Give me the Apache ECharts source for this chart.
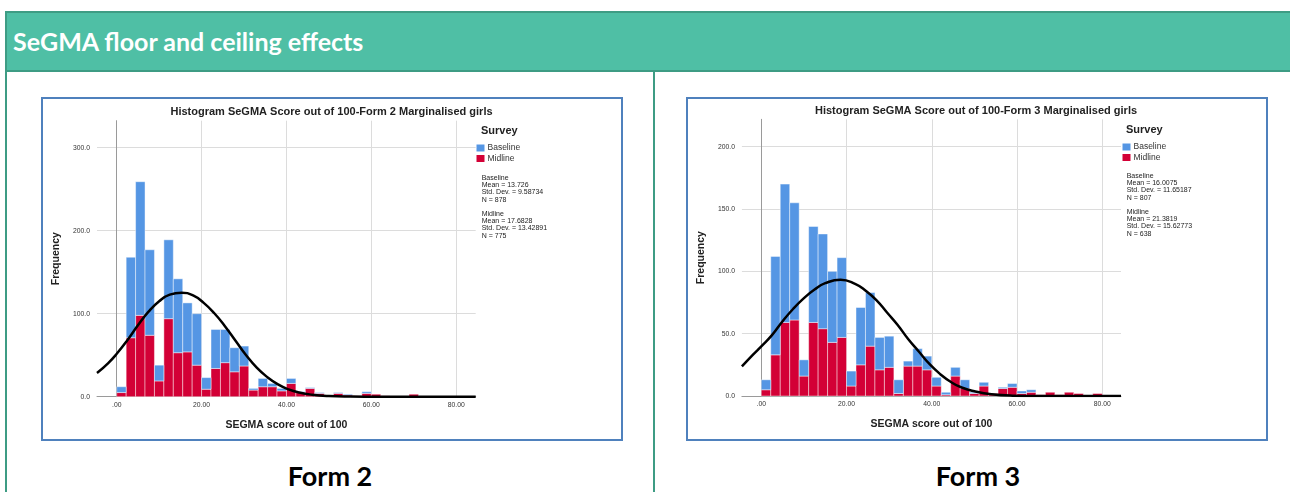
<!DOCTYPE html>
<html><head><meta charset="utf-8">
<script src="https://cdn.jsdelivr.net/npm/echarts@6/dist/echarts.min.js"></script>
<style>
html,body{margin:0;padding:0;background:#fff;width:1290px;height:492px;overflow:hidden;position:relative;}
#hdr{position:absolute;left:5px;top:11px;width:1290px;height:57px;background:#4FBFA5;border:2px solid #3E9C84;color:#fff;font-family:Lato,'Open Sans',sans-serif;font-weight:bold;font-size:25px;line-height:57px;padding-left:6px;white-space:nowrap;}
.vline{position:absolute;top:72px;height:420px;width:2px;background:#3E9C84;}
.box{position:absolute;top:97px;width:578px;height:340px;border:2px solid #4F81BD;}
.cap{position:absolute;top:462px;width:300px;text-align:center;font-family:Lato,'Open Sans',sans-serif;font-weight:bold;font-size:27px;line-height:27px;color:#000;}
</style></head>
<body>
<div id="hdr">SeGMA floor and ceiling effects</div>
<div class="vline" style="left:5px"></div>
<div class="vline" style="left:653px"></div>
<div class="box" style="left:41px"><div id="c2" style="width:578px;height:340px"></div></div>
<div class="box" style="left:686px"><div id="c3" style="width:578px;height:340px"></div></div>
<div class="cap" style="left:180px">Form 2</div>
<div class="cap" style="left:828px">Form 3</div>
<script>
// ---- data ----
const BIN_WIDTH = 100 / 45;            // histogram bin width (score units)
const xTicks = [0, 20, 40, 60, 80];
const form2YTicks = [0, 100, 200, 300];
const form3YTicks = [0, 50, 100, 150, 200];
const seriesNames = ['Baseline', 'Midline'];

// counts per bin (bin k covers [k*BIN_WIDTH, (k+1)*BIN_WIDTH))
const form2Baseline = [7,97,161,103,19,95,89,59,62,14,47,40,29,24,2,10,4,3,6,1,1,1,0,1,1,0,2,0,0,0,0,0];
const form2Midline  = [5,71,98,74,19,94,53,54,38,9,34,41,30,37,8,12,12,7,16,5,10,4,2,4,2,1,4,3,1,0,0,3];
const form3Baseline = [8,79,111,94,13,77,76,57,64,12,46,43,26,25,11,4,14,11,7,2,7,7,1,3,0,1,3,2,2,0,0,0,0,0,0,0];
const form3Midline  = [5,33,59,61,16,59,54,43,47,8,25,40,21,23,2,24,24,21,8,1,16,6,2,8,2,6,7,2,3,1,3,1,3,2,0,2];

// fitted normal curve [score, frequency]
const form2Curve = [[-4.65,28.5],[-2,40.5],[0,51.7],[2.5,68],[5,86],[7.5,102.4],[10,115],[12.5,123],[15.3,125.3],[18,122],[20.5,113],[23,100.5],[25.5,85],[28,67.5],[30.5,50],[33,35],[35.5,23.5],[38,14.8],[40.5,8.8],[43,5],[46,2.4],[50,0.8],[55,0.2],[62,0],[84.6,0]];
const form3Curve = [[-4.55,23.7],[-2,33],[0,39.8],[2.5,48.8],[5,60],[7.5,70],[10,78.5],[12.5,85.5],[15,90.5],[18.6,93.3],[22,90],[24.5,84.5],[27,77],[29.5,67],[32,57],[34.5,45.5],[37,35.5],[39.5,25.5],[42,17.5],[44.5,11.2],[47,6.8],[50,3.8],[54,1.4],[59,0.3],[65,0.05],[84.4,0]];

const form2Title = 'Histogram SeGMA Score out of 100-Form 2 Marginalised girls';
const form3Title = 'Histogram SeGMA Score out of 100-Form 3 Marginalised girls';
const form2BaselineStats = ['Baseline', 'Mean = 13.726', 'Std. Dev. = 9.58734', 'N = 878'];
const form2MidlineStats  = ['Midline', 'Mean = 17.6828', 'Std. Dev. = 13.42891', 'N = 775'];
const form3BaselineStats = ['Baseline', 'Mean = 16.0075', 'Std. Dev. = 11.65187', 'N = 807'];
const form3MidlineStats  = ['Midline', 'Mean = 21.3819', 'Std. Dev. = 15.62773', 'N = 638'];

// ---- drawing ----
const FONT = "'Liberation Sans', Arial, sans-serif";
const BLUE = '#5596E4', RED = '#D30036';

function renderBin(params, api) {
  const lo = api.value(1), hi = api.value(2);
  if (!(hi > lo)) return { type: 'group', children: [] };
  const a = api.coord([api.value(0), hi]);
  const b = api.coord([api.value(3), lo]);
  return {
    type: 'rect',
    shape: { x: a[0], y: a[1], width: b[0] - a[0], height: b[1] - a[1] },
    style: { fill: api.visual('color'), stroke: 'rgba(255,255,255,0.55)', lineWidth: 0.8 }
  };
}

function makeChart(id, c) {
  const chart = echarts.init(document.getElementById(id));
  const midData = c.mid.map((v, k) => [k * BIN_WIDTH, 0, v, (k + 1) * BIN_WIDTH]);
  const baseData = c.base.map((v, k) => [k * BIN_WIDTH, c.mid[k], c.mid[k] + v, (k + 1) * BIN_WIDTH]);
  chart.setOption({
    animation: false,
    grid: { left: c.grid[0], top: c.grid[1], width: c.grid[2], height: c.grid[3] },
    xAxis: {
      type: 'value', min: c.xMin, max: c.xMax,
      name: 'SEGMA score out of 100', nameLocation: 'middle', nameGap: 23,
      nameTextStyle: { fontFamily: FONT, fontWeight: 'bold', fontSize: 10.5, color: '#222' },
      axisLine: { show: true, lineStyle: { color: '#9a9a9a', width: 1 } },
      axisTick: { show: false, customValues: xTicks },
      axisLabel: { customValues: xTicks, margin: 5, fontFamily: FONT, fontSize: 6.8, color: '#333',
        formatter: v => v === 0 ? '.00' : v.toFixed(2) },
      splitLine: { show: true, lineStyle: { color: '#dcdcdc', width: 1 } }
    },
    yAxis: {
      type: 'value', min: 0, max: c.yMax,
      name: 'Frequency', nameLocation: 'middle', nameGap: 31,
      nameTextStyle: { fontFamily: FONT, fontWeight: 'bold', fontSize: 10.5, color: '#222' },
      axisLine: { show: true, lineStyle: { color: '#9a9a9a', width: 1 } },
      axisTick: { show: false, customValues: c.yTicks },
      axisLabel: { customValues: c.yTicks, margin: 7, fontFamily: FONT, fontSize: 6.8, color: '#333',
        formatter: v => v.toFixed(1) },
      splitLine: { show: true, lineStyle: { color: '#dcdcdc', width: 1 } }
    },
    legend: {
      data: seriesNames, orient: 'vertical', left: c.legend[0], top: c.legend[1],
      itemWidth: 8, itemHeight: 7, itemGap: 1.5, icon: 'rect', padding: 0, selectedMode: false,
      textStyle: { fontFamily: FONT, fontSize: 8.5, color: '#333', padding: [0, 0, 0, -2] }
    },
    graphic: [
      { type: 'text', x: c.title[0], y: c.title[1], style: { text: c.titleText, font: 'bold 11px ' + FONT, fill: '#222', align: 'center', verticalAlign: 'middle' } },
      { type: 'text', x: c.survey[0], y: c.survey[1], style: { text: 'Survey', font: 'bold 11px ' + FONT, fill: '#222', verticalAlign: 'middle' } },
      { type: 'text', x: c.stats[0], y: c.stats[1], style: { text: c.baseStats.join('\n'), font: '7px ' + FONT, lineHeight: 7.2, fill: '#222' } },
      { type: 'text', x: c.stats[0], y: c.stats[2], style: { text: c.midStats.join('\n'), font: '7px ' + FONT, lineHeight: 7.2, fill: '#222' } }
    ],
    series: [
      { name: 'Midline', type: 'custom', renderItem: renderBin, itemStyle: { color: RED },
        encode: { x: [0, 3], y: [1, 2] }, data: midData, z: 2 },
      { name: 'Baseline', type: 'custom', renderItem: renderBin, itemStyle: { color: BLUE },
        encode: { x: [0, 3], y: [1, 2] }, data: baseData, z: 2 },
      { name: 'Normal', type: 'line', data: c.curve, smooth: 0.5, symbol: 'none',
        lineStyle: { color: '#000', width: 2.5 }, z: 5 }
    ]
  });
}

makeChart('c2', {
  base: form2Baseline, mid: form2Midline, curve: form2Curve, yTicks: form2YTicks,
  xMin: -4.65, xMax: 84.6, yMax: 332.5,
  grid: [54, 21.7, 378.7, 276],
  title: [288.5, 13], titleText: form2Title,
  legend: [433.5, 44.5], survey: [438, 32],
  stats: [438.7, 75.5, 111.5], baseStats: form2BaselineStats, midStats: form2MidlineStats
});
makeChart('c3', {
  base: form3Baseline, mid: form3Midline, curve: form3Curve, yTicks: form3YTicks,
  xMin: -4.55, xMax: 84.4, yMax: 222,
  grid: [53.3, 20.3, 379.7, 276.7],
  title: [288, 12], titleText: form3Title,
  legend: [434.5, 43.5], survey: [438, 31],
  stats: [438.7, 73.5, 109.5], baseStats: form3BaselineStats, midStats: form3MidlineStats
});
</script>
</body></html>
